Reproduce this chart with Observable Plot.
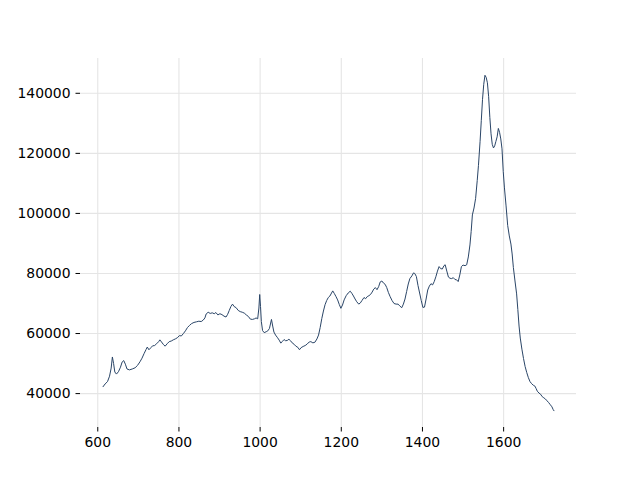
<!DOCTYPE html>
<html>
<head>
<meta charset="utf-8">
<script src="https://cdn.jsdelivr.net/npm/d3@7"></script>
<script src="https://cdn.jsdelivr.net/npm/@observablehq/plot@0.6"></script>
<style>
  html, body { margin: 0; padding: 0; background: #fff; }
  #chart svg { display: block; }
</style>
</head>
<body>
<div id="chart"></div>
<script>
const wavenumber = [613,618,624,629,633,636,639,642,646,651,656,660,664,668,672,678,685,692,698,704,709,714,719,722,726,731,735,740,745,750,753,757,762,766,771,776,781,786,791,796,801,806,811,816,821,826,831,837,843,849,855,860,864,867,872,877,882,887,891,896,901,906,911,916,920,924,928,932,936,941,946,951,956,961,966,971,976,981,986,990,994,997,999,1001,1003,1006,1010,1015,1019,1023,1026,1028,1031,1034,1038,1043,1047,1051,1055,1059,1063,1067,1071,1075,1079,1084,1088,1093,1097,1101,1106,1111,1116,1121,1125,1130,1135,1140,1144,1148,1152,1156,1160,1164,1168,1172,1176,1179,1183,1187,1191,1195,1199,1203,1207,1212,1217,1222,1226,1230,1234,1238,1243,1247,1251,1256,1260,1264,1268,1272,1276,1280,1284,1288,1292,1296,1300,1304,1308,1312,1316,1320,1325,1330,1335,1340,1344,1349,1353,1357,1361,1365,1369,1374,1378,1381,1385,1389,1393,1397,1401,1405,1409,1413,1417,1421,1425,1429,1433,1437,1441,1445,1449,1453,1456,1460,1464,1468,1472,1476,1480,1484,1488,1492,1496,1500,1505,1509,1513,1517,1520,1523,1527,1531,1535,1538,1542,1545,1548,1551,1554,1557,1560,1563,1566,1569,1572,1575,1578,1581,1584,1587,1590,1593,1596,1599,1602,1606,1610,1614,1618,1621,1624,1628,1632,1635,1638,1641,1645,1649,1653,1657,1661,1665,1669,1673,1677,1680,1683,1687,1691,1695,1699,1703,1707,1711,1715,1719,1722,1724];
const intensity = [42300,43200,44000,45800,48500,52200,50000,47200,46500,47300,48800,50500,51000,49800,48200,47900,48200,48600,49400,50600,51800,53300,54700,55500,54600,55300,55900,56000,56600,57300,57900,57200,56300,55800,56600,57300,57500,57900,58200,58600,59300,59200,60000,60900,62000,62700,63300,63700,63900,64100,64000,64500,65200,66500,67100,66700,66900,66600,67000,66200,66600,66300,65800,65500,66400,67700,69000,69800,69000,68600,67700,67300,67100,66800,66200,65700,64800,64700,64900,65200,64900,68500,73000,69000,64000,61000,60300,60600,60900,61700,63500,64700,62500,60500,59500,58600,57800,56800,57400,58000,57600,57700,58100,57600,56900,56400,55800,55400,54600,55300,55700,56000,56500,57200,57300,56900,57100,58200,59500,62000,65000,67500,69600,71000,72000,72500,73500,74200,73300,72300,71200,69700,68400,69500,71200,72600,73500,74100,73400,72500,71500,70600,69800,70200,71000,72000,71600,72300,72600,73000,73800,74800,75300,74600,75600,77200,77500,76800,76400,75300,73700,72400,71000,70000,69800,69800,69200,68600,69800,71500,74000,76500,78300,79200,80200,80000,79000,76000,73500,71000,68700,68800,71500,74500,75800,76600,76200,77300,78900,80800,82300,81600,81500,82600,82900,80800,78800,78400,78300,78600,78000,77900,77300,79500,82300,82800,82600,82900,85500,89500,94000,99500,101800,105000,111000,116000,124000,131000,138000,143000,146000,145300,143500,139000,132000,126500,123000,121800,122500,124000,125500,128300,127000,124800,121500,114000,108500,102500,96000,92500,89800,86500,82000,77500,73200,68000,62500,58500,54800,51700,49000,47000,45300,44000,43300,42800,42500,41700,40800,40200,39800,39000,38600,38200,37600,37000,36300,35600,34700,34300];
const xTicks = [600, 800, 1000, 1200, 1400, 1600];
const yTicks = [40000, 60000, 80000, 100000, 120000, 140000];

const data = wavenumber.map((x, i) => ({x, y: intensity[i]}));

const xMin = d3.min(wavenumber), xMax = d3.max(wavenumber);
const yMin = d3.min(intensity), yMax = d3.max(intensity);
const xPad = (xMax - xMin) * 0.05, yPad = (yMax - yMin) * 0.05;

const chart = Plot.plot({
  width: 640,
  height: 480,
  marginLeft: 80,
  marginRight: 64,
  marginTop: 58,
  marginBottom: 53,
  style: {fontFamily: "DejaVu Sans", fontSize: "13.9px", color: "#000", background: "#fff"},
  x: {domain: [xMin - xPad, xMax + xPad], label: null},
  y: {domain: [yMin - yPad, yMax + yPad], label: null},
  marks: [
    Plot.gridX(xTicks, {stroke: "#e5e5e5", strokeOpacity: 1, strokeWidth: 1.1}),
    Plot.gridY(yTicks, {stroke: "#e5e5e5", strokeOpacity: 1, strokeWidth: 1.1}),
    Plot.axisX({ticks: xTicks, tickFormat: d => String(d), tickSize: 4.5, tickPadding: 5, label: null}),
    Plot.axisY({ticks: yTicks, tickFormat: d => String(d), tickSize: 4.5, tickPadding: 5.5, label: null}),
    Plot.line(data, {x: "x", y: "y", stroke: "#2a4567", strokeWidth: 1})
  ]
});
document.getElementById("chart").appendChild(chart);
</script>
</body>
</html>
